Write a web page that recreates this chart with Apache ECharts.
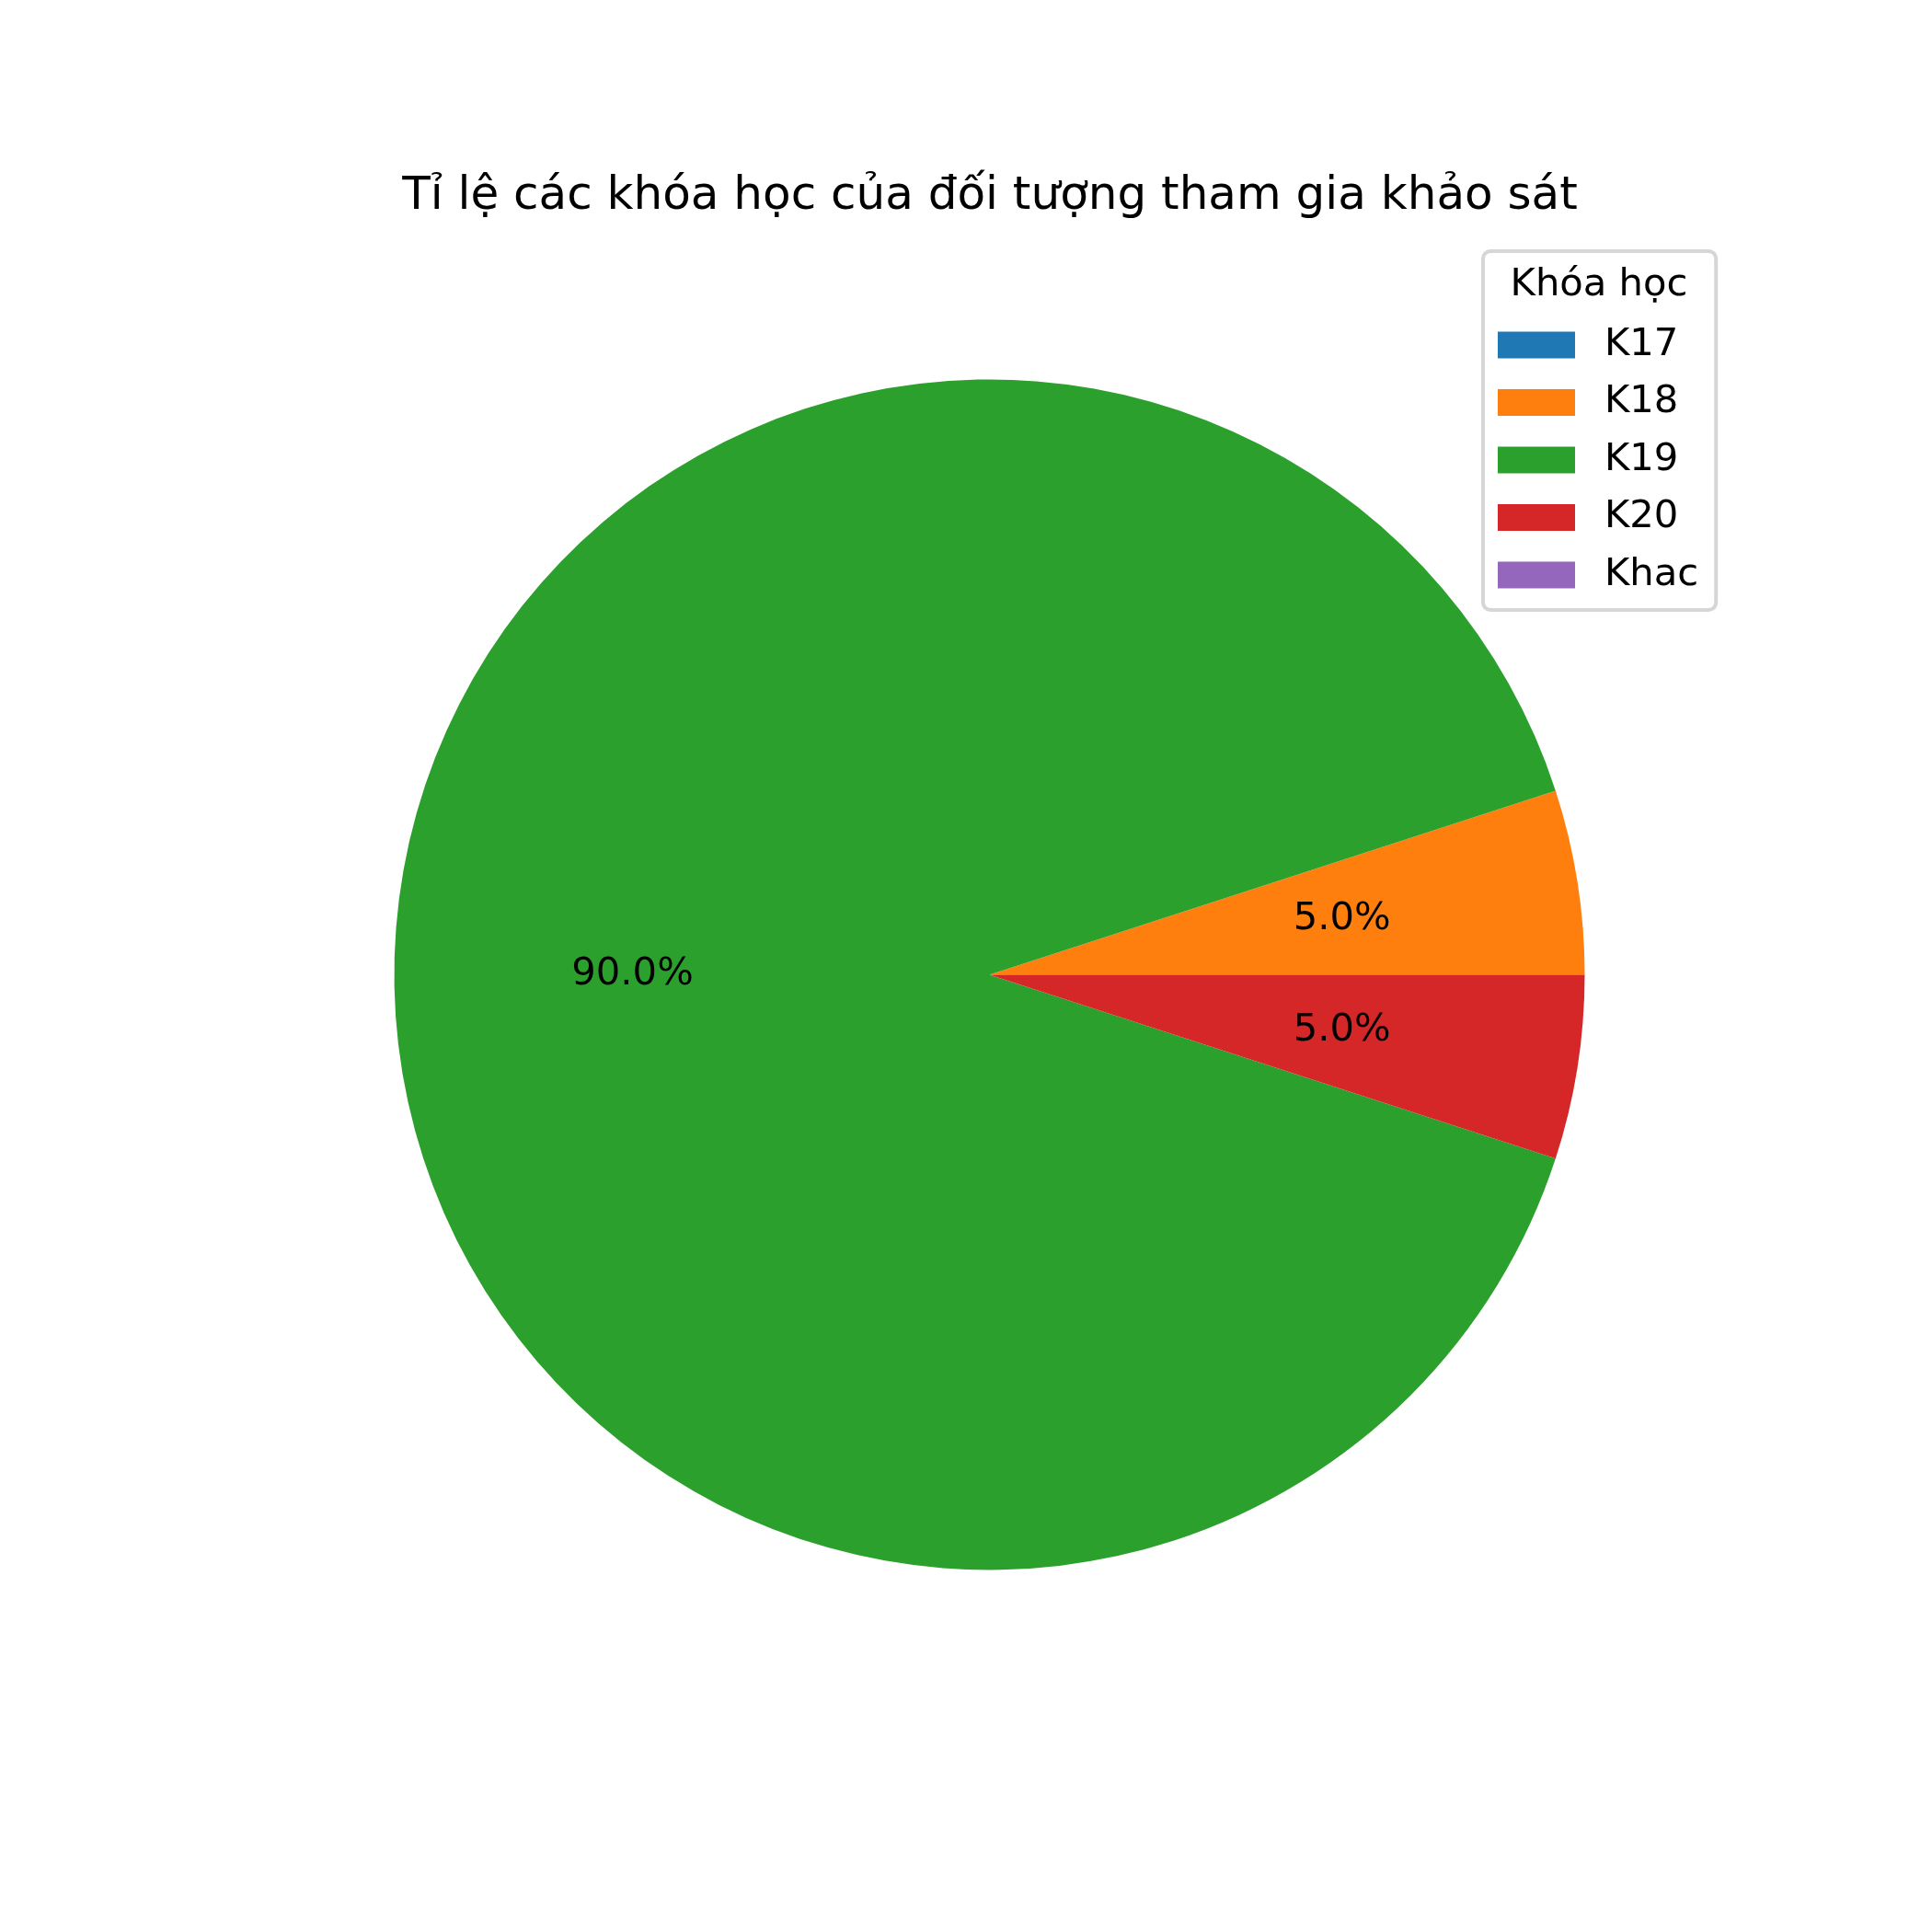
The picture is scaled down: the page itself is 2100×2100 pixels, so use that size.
<!DOCTYPE html>
<html>
<head>
<meta charset="utf-8">
<script src="https://cdn.jsdelivr.net/npm/echarts@6/dist/echarts.min.js"></script>
<style>html,body{margin:0;padding:0;background:#fff;}#c{width:2100px;height:2100px;}</style>
</head>
<body>
<div id="c"></div>
<script>
const chartTitle = 'Tỉ lệ các khóa học của đối tượng tham gia khảo sát';
const legendTitle = 'Khóa học';
const categories = ['K17', 'K18', 'K19', 'K20', 'Khac'];
const counts = [0, 1, 18, 1, 0];
const colors = ['#1f77b4', '#ff7f0e', '#2ca02c', '#d62728', '#9467bd'];

const FONT = 'DejaVu Sans';
const cx = 1075.5, cy = 1059.4, R = 647;
const pieData = categories.map((c, i) => ({ name: c, value: counts[i] }));

const chart = echarts.init(document.getElementById('c'), null, { renderer: 'canvas' });
chart.setOption({
  animation: false,
  backgroundColor: '#ffffff',
  color: colors,
  graphic: [
    { type: 'text', x: 1076, y: 214, style: { text: chartTitle, fontFamily: FONT, fontSize: 50, fill: '#000', align: 'center', verticalAlign: 'middle' } },
    { type: 'text', x: 1738, y: 310, z: 100, style: { text: legendTitle, fontFamily: FONT, fontSize: 41.7, fill: '#000', align: 'center', verticalAlign: 'middle' } }
  ],
  legend: {
    orient: 'vertical',
    left: 1612,
    top: 273,
    padding: [81, 19, 17, 16],
    itemWidth: 84,
    itemHeight: 29,
    itemGap: 20.5,
    icon: 'rect',
    borderColor: '#d6d6d6',
    borderWidth: 4,
    borderRadius: 8,
    backgroundColor: '#ffffff',
    data: categories,
    textStyle: { fontFamily: FONT, fontSize: 41.7, lineHeight: 42, color: '#000', padding: [0, 0, 0, 27] },
    selectedMode: false
  },
  series: [
    {
      type: 'pie',
      center: [cx, cy],
      radius: [0, R],
      startAngle: 0,
      clockwise: false,
      avoidLabelOverlap: false,
      silent: true,
      label: { show: false },
      labelLine: { show: false },
      itemStyle: { borderWidth: 0 },
      emphasis: { disabled: true },
      data: pieData
    },
    {
      type: 'pie',
      center: [cx, cy],
      radius: [R * 0.19, R],
      startAngle: 0,
      clockwise: false,
      avoidLabelOverlap: false,
      silent: true,
      z: 10,
      itemStyle: { color: 'rgba(0,0,0,0)', borderWidth: 0 },
      emphasis: { disabled: true },
      labelLine: { show: false },
      label: {
        show: true,
        position: 'inside',
        fontFamily: FONT,
        fontSize: 41.7,
        color: '#000',
        padding: [4, 0, 0, 0],
        formatter: function (p) { return p.value > 0 ? p.percent.toFixed(1) + '%' : ''; }
      },
      data: pieData
    }
  ]
});
</script>
</body>
</html>
